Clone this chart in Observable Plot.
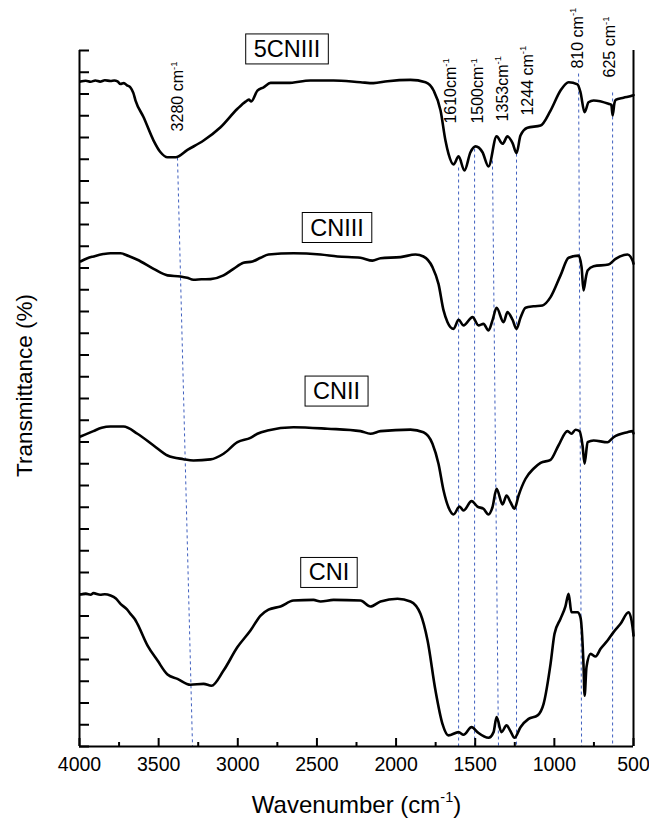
<!DOCTYPE html>
<html><head><meta charset="utf-8">
<script src="https://cdn.jsdelivr.net/npm/d3@7"></script>
<script src="https://cdn.jsdelivr.net/npm/@observablehq/plot@0.6"></script>
<style>body{margin:0;background:#fff;} svg{display:block}</style>
</head><body><div id="chart"></div>
<script>
// ---- spectra (wavenumber cm-1, stacked transmittance, arbitrary units) ----
const w5CNIII = [3994,3960,3930,3900,3870,3840,3804,3780,3760,3741,3720,3700,3678,3660,3646,3595,3532,3488,3444,3393,3318,3216,3109,3002,2951,2930,2915,2876,2837,2793,2686,2541,2395,2225,2143,2054,1909,1814,1763,1719,1688,1669,1637,1605,1568,1530,1498,1454,1416,1365,1327,1296,1264,1239,1214,1170,1087,1024,961,910,854,835,809,784,752,658,640,632,620,613,563,506,500];
const t5CNIII = [30.57,30.61,30.56,30.62,30.57,30.63,30.60,30.62,30.58,30.46,30.50,30.40,30.30,30.05,29.70,28.93,27.86,27.32,27.09,27.09,27.43,27.86,28.47,29.32,29.65,29.74,29.66,30.16,30.31,30.51,30.51,30.62,30.62,30.54,30.50,30.59,30.65,30.54,30.16,29.24,27.86,27.26,26.76,27.13,26.48,27.32,27.59,27.32,26.67,28.05,27.71,28.05,27.74,27.28,28.09,28.45,28.55,29.24,30.16,30.54,30.44,30.08,29.16,29.62,29.70,29.55,29.50,29.01,29.60,29.73,29.83,29.93,29.95];

const wCNIII = [3994,3950,3912,3850,3804,3741,3690,3634,3532,3444,3362,3320,3280,3230,3172,3090,3027,2964,2907,2856,2806,2648,2477,2370,2225,2149,2098,1972,1877,1827,1770,1732,1700,1675,1637,1605,1574,1517,1479,1448,1416,1391,1365,1321,1296,1264,1239,1214,1182,1132,1075,1024,961,910,847,828,816,800,790,752,658,613,560,538,506,500];
const tCNIII = [22.30,22.45,22.53,22.64,22.68,22.68,22.55,22.38,21.96,21.66,21.61,21.55,21.46,21.48,21.49,21.66,21.96,22.24,22.30,22.47,22.62,22.68,22.62,22.53,22.47,22.34,22.45,22.50,22.62,22.53,22.04,21.27,20.05,19.51,19.20,19.62,19.36,19.74,19.36,19.43,19.13,19.59,20.17,19.51,19.97,19.62,19.20,19.71,20.17,20.24,20.28,20.66,21.66,22.47,22.57,22.04,20.97,21.60,21.89,22.08,22.16,22.42,22.60,22.62,22.34,22.20];

const wCNII = [3994,3912,3860,3804,3722,3634,3532,3444,3343,3280,3172,3090,3002,2920,2876,2812,2648,2433,2225,2162,2098,1909,1827,1770,1732,1700,1669,1637,1599,1574,1523,1486,1448,1416,1391,1365,1327,1302,1277,1252,1226,1182,1132,1087,1024,974,917,892,866,841,822,809,790,752,664,626,538,506,500];
const tCNII = [14.25,14.50,14.65,14.71,14.71,14.38,13.84,13.38,13.21,13.15,13.20,13.46,13.99,14.19,14.38,14.53,14.68,14.61,14.50,14.38,14.50,14.57,14.45,13.92,13.00,11.77,11.00,10.67,11.03,10.85,11.28,11.03,10.93,10.67,11.00,11.85,11.13,11.54,11.23,10.93,11.54,12.31,12.77,13.04,13.18,13.84,14.50,14.38,14.56,14.50,13.84,13.00,13.99,14.07,13.99,14.22,14.45,14.50,14.40];

const wCNI = [3994,3960,3930,3912,3870,3840,3804,3770,3741,3700,3678,3650,3634,3570,3507,3444,3381,3299,3216,3166,3090,3002,2920,2856,2806,2730,2648,2522,2477,2395,2225,2162,2098,1991,1909,1846,1801,1751,1707,1669,1605,1574,1523,1486,1416,1384,1365,1334,1302,1277,1252,1214,1163,1106,1068,1024,999,961,930,910,892,854,835,816,809,797,771,740,708,664,626,582,531,506,500];
const tCNI = [6.99,7.03,6.98,7.05,6.98,7.00,6.94,6.80,6.56,6.30,6.10,5.85,5.64,4.64,3.95,3.31,3.11,2.84,2.88,2.79,3.49,4.57,5.33,6.02,6.29,6.44,6.71,6.74,6.67,6.74,6.71,6.44,6.67,6.79,6.67,6.10,4.87,2.57,1.04,0.51,0.66,0.54,0.89,0.66,0.40,0.66,1.35,0.66,0.97,0.70,0.40,0.89,1.27,1.43,1.96,3.80,5.18,5.87,6.44,7.02,6.17,6.17,5.94,3.80,2.34,3.65,4.26,4.14,4.49,4.87,5.26,5.64,6.17,5.49,5.10];

// ---- sample labels ----
const sampleNames = ["5CNIII","CNIII","CNII","CNI"];
const sampleLabelW = [2689,2373,2376,2424];
const sampleLabelT = [32.05,23.84,16.32,7.98];

// ---- peak annotations ----
const peakText = ["3280 cm⁻¹","1610cm⁻¹","1500cm⁻¹","1353cm⁻¹","1244 cm⁻¹","810 cm⁻¹","625 cm⁻¹"];
const peakTextW = [3343,1624,1448,1296,1138,822,614];
const peakTextT = [28.28,28.64,28.64,28.74,29.01,31.17,30.76];
const guideTopW = [3381,1605,1504,1391,1239,847,632];
const guideBottomW = [3286,1605,1504,1353,1239,828,632];
const guideTopT = [27.08,26.62,27.49,26.94,27.26,30.94,30.07];

// ---- axis ticks ----
const xTicks = [4000,3500,3000,2500,2000,1500,1000,500];
const xMinorTicks = [3750,3250,2750,2250,1750,1250,750];
const yTicks = d3.range(0, 33);

// ---- build tables ----
const series = [[sampleNames[0], w5CNIII, t5CNIII],[sampleNames[1], wCNIII, tCNIII],[sampleNames[2], wCNII, tCNII],[sampleNames[3], wCNI, tCNI]];
const spectra = series.flatMap(([name, W, T]) => W.map((w, i) => ({sample: name, w, t: T[i]})));
const labels = sampleNames.map((name, i) => ({name, w: sampleLabelW[i], t: sampleLabelT[i]}));
const peaks = peakText.map((text, i) => ({text, w: peakTextW[i], t: peakTextT[i]}));
const guides = guideTopW.map((w, i) => ({x1: w, x2: guideBottomW[i], y1: guideTopT[i], y2: 0}));

const fontFamily = "'Liberation Sans', Arial, Helvetica, sans-serif";

const chart = Plot.plot({
  width: 649, height: 820,
  marginLeft: 79, marginRight: 16, marginTop: 50, marginBottom: 74,
  style: {fontFamily, color: "#000", background: "#fff", overflow: "visible"},
  x: {domain: [4000, 500], axis: null},
  y: {domain: [0, 32], axis: null},
  marks: [
    Plot.link(guides, {x1: "x1", y1: "y1", x2: "x2", y2: "y2", stroke: "#3f5fbf", strokeWidth: 1, strokeDasharray: "3,3"}),
    Plot.line(spectra, {x: "w", y: "t", z: "sample", stroke: "#000", strokeWidth: 2.6, curve: "monotone-x", strokeLinejoin: "round"}),
    Plot.ruleX([4000], {stroke: "#000", strokeWidth: 2}),
    Plot.ruleX([500], {stroke: "#000", strokeWidth: 2}),
    Plot.ruleY([0], {stroke: "#000", strokeWidth: 2}),
    Plot.axisY({ticks: yTicks, tickSize: 10, dx: 10, tickFormat: () => "", label: null, strokeWidth: 2}),
    Plot.axisX({ticks: xTicks, tickSize: 8, dy: -8, tickFormat: () => "", label: null, strokeWidth: 2}),
    Plot.axisX({ticks: xMinorTicks, tickSize: 4, dy: -4, tickFormat: () => "", label: null, strokeWidth: 2}),
    Plot.axisX({ticks: xTicks, tickSize: 0, tickPadding: 11, fontSize: 19.5, tickFormat: d => String(d), label: null}),
    Plot.text(["Wavenumber (cm⁻¹)"], {frameAnchor: "bottom", textAnchor: "middle", lineAnchor: "bottom", dy: 66, fontSize: 24, text: d => d}),
    Plot.text(["Transmittance (%)"], {frameAnchor: "left", textAnchor: "middle", rotate: -90, lineAnchor: "bottom", dx: -48, dy: -13, fontSize: 22.5, text: d => d}),
    Plot.text(peaks, {x: "w", y: "t", text: "text", rotate: -90, textAnchor: "start", lineAnchor: "bottom", fontSize: 16}),
    Plot.text(labels, {x: "w", y: "t", text: "name", textAnchor: "middle", lineAnchor: "middle", fontSize: 23.5})
  ]
});

document.getElementById("chart").appendChild(chart);

// superscripts
d3.select(chart).selectAll("text").each(function () {
  const t = this.textContent;
  if (!t.includes("⁻¹")) return;
  const [a, b] = t.split("⁻¹");
  const sel = d3.select(this);
  sel.text(null);
  sel.append("tspan").text(a);
  sel.append("tspan").attr("font-size", "0.6em").attr("dy", "-0.7em").text("-1");
  if (b) sel.append("tspan").attr("dy", "0.42em").text(b);
});

// boxes around sample labels
const labelNodes = Array.from(chart.querySelectorAll("text")).filter(n => sampleNames.includes(n.textContent));
for (const node of labelNodes) {
  const bb = node.getBBox();
  const rect = document.createElementNS("http://www.w3.org/2000/svg", "rect");
  const tr = node.getAttribute("transform");
  if (tr) rect.setAttribute("transform", tr);
  rect.setAttribute("x", bb.x - 8);
  rect.setAttribute("y", bb.y - 2);
  rect.setAttribute("width", bb.width + 16);
  rect.setAttribute("height", bb.height + 4);
  rect.setAttribute("fill", "#fff");
  rect.setAttribute("stroke", "#000");
  rect.setAttribute("stroke-width", "1");
  node.parentNode.insertBefore(rect, node);
}
</script>
</body></html>
